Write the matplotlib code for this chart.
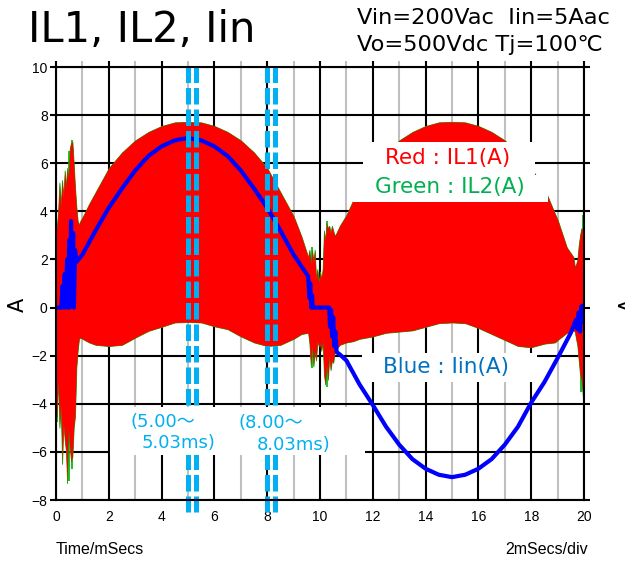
import matplotlib
matplotlib.use("Agg")
import matplotlib.pyplot as plt
from matplotlib.patches import Rectangle

# ---- data (time in ms, current in A) ----
red_t = [0.00, 0.03, 0.08, 0.13, 0.18, 0.23, 0.28, 0.33, 0.38, 0.42, 0.47, 0.52, 0.57, 0.62, 0.67,
         0.72, 0.77, 0.82, 0.87, 0.92, 1.00, 1.25, 1.5, 2.0, 2.5, 3.0, 3.5, 4.0, 4.5, 5.0, 5.5, 6.0,
         6.5, 7.0, 7.5, 8.0, 8.5, 9.0, 9.3, 9.55, 9.6, 9.65, 9.7, 9.75, 9.8, 9.85, 9.9, 9.95, 10.0,
         10.05, 10.1, 10.15, 10.2, 10.25, 10.3, 10.35, 10.4, 10.45, 10.5, 10.55, 10.6, 10.75, 11.0,
         11.25, 11.5, 12.0, 12.5, 13.0, 13.5, 14.0, 14.5, 15.0, 15.5, 16.0, 16.5, 17.0, 17.5, 18.0,
         18.5, 18.9, 19.0, 19.35, 19.6, 19.65, 19.7, 19.75, 19.8, 19.85, 19.9, 19.95, 19.98, 20.0]
red_hi = [3.2, 3.3, 4.0, 5.2, 4.2, 5.3, 4.6, 5.7, 5.0, 5.8, 5.4, 6.6, 6.85, 6.9, 6.0,
          5.0, 4.2, 3.6, 3.45, 3.6, 3.75, 4.3, 4.8, 5.8, 6.45, 6.95, 7.3, 7.55, 7.7, 7.72, 7.7, 7.55,
          7.3, 6.95, 6.45, 5.8, 4.8, 3.8, 2.95, 2.1, 2.4, 1.8, 2.4, 1.9, 2.4, 1.2, 1.6, 1.0, 1.5,
          1.2, 1.6, 3.2, 2.8, 3.5, 3.3, 3.4, 3.1, 3.4, 3.2, 3.0, 3.05, 3.4, 3.85,
          4.45, 5.0, 5.8, 6.45, 6.95, 7.3, 7.55, 7.7, 7.72, 7.7, 7.55, 7.3, 6.95, 6.45, 5.8,
          4.95, 3.9, 3.65, 2.5, 2.1, 1.7, 1.8, 2.0, 2.6, 3.0, 3.3, 3.2, 3.3, 3.0]
red_lo = [-4.6, -4.5, -3.0, -5.0, -4.0, -6.5, -4.8, -5.5, -6.0, -7.3, -5.0, -5.8, -6.4, -6.2, -5.0,
          -4.5, -2.5, -1.8, -1.3, -1.25, -1.3, -1.45, -1.55, -1.6, -1.55, -1.25, -0.97, -0.8, -0.62, -0.6, -0.62, -0.78,
          -0.9, -1.2, -1.45, -1.6, -1.55, -1.3, -1.1, -1.05, -1.5, -2.4, -1.6, -2.45, -1.8, -2.2, -1.4, -1.6, -1.5,
          -1.8, -1.4, -2.8, -3.2, -2.4, -3.0, -2.0, -2.6, -2.2, -2.3, -1.9, -1.75, -1.55, -1.45,
          -1.4, -1.3, -1.2, -1.05, -1.0, -0.95, -0.8, -0.65, -0.62, -0.65, -0.85, -1.1, -1.35, -1.6, -1.65,
          -1.5, -1.45, -1.35, -1.05, -0.95, -1.0, -1.3, -1.6, -2.2, -2.8, -3.0, -3.6, -4.0, -3.8]

# IL2 spikes that stick out of the IL1 band
green_t = [0.03, 0.5, 0.6, 9.7, 10.28, 19.87, 19.97]
green_lo = [-4.75, -7.2, -6.7, -2.5, -3.3, -3.5, -3.0]
green_hi = [3.3, 6.5, 6.95, 2.5, 3.6, 3.0, 3.85]

iin_t = [0.0, 0.2, 0.25, 0.28, 0.33, 0.36, 0.42, 0.45, 0.5, 0.53, 0.57, 0.6, 0.65, 0.68, 0.72,
         0.78, 0.85, 1.0, 1.5, 2.0, 2.5, 3.0, 3.5, 4.0, 4.5, 5.0, 5.5, 6.0, 6.5, 7.0, 7.5, 8.0,
         8.5, 9.0, 9.55, 9.6, 9.63, 9.67, 9.7, 9.72, 10.35, 10.38, 10.42, 10.46, 10.5, 10.54,
         10.58, 10.63, 10.75, 11.0, 11.5, 12.0, 12.5, 13.0, 13.5, 14.0, 14.5, 15.0, 15.5, 16.0,
         16.5, 17.0, 17.5, 18.0, 18.5, 19.0, 19.5, 19.7, 19.75, 19.8, 19.85, 19.9, 19.95, 19.98, 20.0]
iin = [0.0, 0.0, 0.9, 0.0, 1.4, 0.0, 2.0, 0.0, 2.8, 0.0, 3.6, 0.2, 3.1, 0.0, 2.4,
       1.9, 2.0, 2.2, 3.2, 4.15, 4.95, 5.7, 6.3, 6.7, 6.95, 7.05, 6.95, 6.7, 6.3, 5.7, 4.95, 4.15,
       3.2, 2.2, 1.3, 0.4, 1.0, 0.0, 0.5, 0.0, 0.0, -0.8, -0.1, -1.2, -0.4, -1.6,
       -1.0, -1.85, -1.95, -2.2, -3.2, -4.05, -4.95, -5.7, -6.3, -6.7, -6.95, -7.05, -6.95, -6.7,
       -6.3, -5.7, -4.95, -3.95, -3.1, -2.1, -1.05, -0.5, -0.9, -0.2, -1.0, 0.05, -0.6, 0.1, 0.05]

marker_t = [5.0, 5.3, 8.0, 8.28]

x_major = list(range(0, 21, 2))
x_minor = list(range(1, 20, 2))
y_major = list(range(-8, 11, 2))

sans = ['DejaVu Sans', 'Noto Sans CJK JP']
arial = ['Liberation Sans', 'DejaVu Sans']

W, H = 625, 563
fig = plt.figure(figsize=(W / 100, H / 100), dpi=100)
ax = fig.add_axes([56 / W, 1 - 500 / H, 528 / W, 433 / H])

# grid
for x in x_minor:
    ax.axvline(x, color='#c0c0c0', lw=1.5, zorder=0)
for x in x_major:
    ax.axvline(x, color='black', lw=1.5, zorder=0.5)
for y in y_major:
    ax.axhline(y, color='black', lw=1.5, zorder=0.5)

# IL2 (mostly hidden) then IL1 on top
ax.fill_between(red_t, red_lo, red_hi, color='#00b000', lw=0.6, zorder=1)
ax.vlines(green_t, green_lo, green_hi, color='#00b000', lw=1.2, zorder=1)
ax.fill_between(red_t, red_lo, red_hi, color='#ff0000', lw=0, zorder=2)
ax.plot(iin_t, iin, color='#0000ff', lw=3.0, zorder=3)

ax.set_xlim(0, 20)
ax.set_ylim(-8, 10)
ax.set_xticks(x_major)
ax.set_xticks(x_minor, minor=True)
ax.set_yticks(y_major)
ax.tick_params(direction='out', length=4, width=1.5, labelsize=10, pad=2, top=True, right=True)
ax.tick_params(axis='x', which='both', bottom=False)
ax.tick_params(which='minor', direction='out', length=4, width=1.5, color='#c0c0c0', top=True)
ax.tick_params(axis='x', pad=3)
for lab in ax.get_xticklabels() + ax.get_yticklabels():
    lab.set_family(arial)
for s in ax.spines.values():
    s.set_linewidth(1.5)
    s.set_zorder(6)


def white_box(x0, y0, x1, y1):
    ax.add_patch(Rectangle((x0 / W, 1 - y1 / H), (x1 - x0) / W, (y1 - y0) / H,
                           transform=fig.transFigure, facecolor='white', edgecolor='none',
                           clip_on=False, zorder=5.5))


# time-window markers
for t in marker_t:
    ax.plot([t, t], [10.05, -8.5], color='#00b0f0', lw=3.6, dashes=(3.3, 1.0),
            clip_on=False, zorder=5)

white_box(363, 142, 535, 175)
white_box(353, 175, 548, 202)
white_box(362, 353, 537, 382)
white_box(110, 407, 365, 455)

# legends as coloured text
fig.text(448 / W, 1 - 158 / H, 'Red : IL1(A)', color='#ff0000', fontsize=15.5,
         family=sans, ha='center', va='center', zorder=7)
fig.text(450 / W, 1 - 187 / H, 'Green : IL2(A)', color='#00b050', fontsize=15.5,
         family=sans, ha='center', va='center', zorder=7)
fig.text(446 / W, 1 - 367 / H, 'Blue : Iin(A)', color='#0070c0', fontsize=15.5,
         family=sans, ha='center', va='center', zorder=7)
fig.text(130 / W, 1 - 422 / H, '(5.00～', color='#00b0f0', fontsize=13,
         family=sans, ha='left', va='center', zorder=7)
fig.text(142 / W, 1 - 443 / H, '5.03ms)', color='#00b0f0', fontsize=13,
         family=sans, ha='left', va='center', zorder=7)
fig.text(238 / W, 1 - 423 / H, '(8.00～', color='#00b0f0', fontsize=13,
         family=sans, ha='left', va='center', zorder=7)
fig.text(257 / W, 1 - 445 / H, '8.03ms)', color='#00b0f0', fontsize=13,
         family=sans, ha='left', va='center', zorder=7)

# titles and labels
fig.text(28 / W, 1 - 30 / H, 'IL1, IL2, Iin', fontsize=30, family=sans, ha='left', va='center')
fig.text(357 / W, 1 - 18 / H, 'Vin=200Vac  Iin=5Aac', fontsize=16.2, family=sans, ha='left', va='center')
fig.text(357 / W, 1 - 45 / H, 'Vo=500Vdc Tj=100℃', fontsize=16.2, family=sans, ha='left', va='center')
fig.text(18 / W, 1 - 305 / H, 'A', fontsize=15, family=sans, rotation=90, ha='center', va='center')
fig.text(619 / W, 1 - 305 / H, 'A', fontsize=15, family=sans, rotation=90, ha='left', va='center')
fig.text(56 / W, 1 - 549 / H, 'Time/mSecs', fontsize=11.5, family=arial, ha='left', va='center')
fig.text(588 / W, 1 - 549 / H, '2mSecs/div', fontsize=11.5, family=arial, ha='right', va='center')

fig.savefig('out.png', dpi=100)
